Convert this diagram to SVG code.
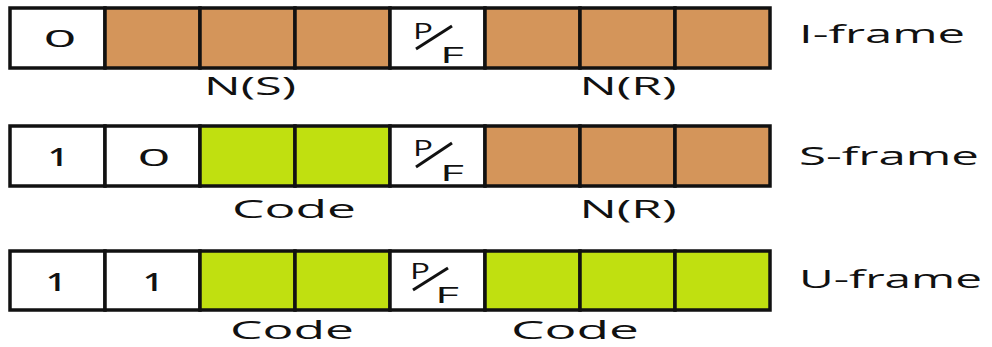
<svg xmlns="http://www.w3.org/2000/svg" width="992" height="347" viewBox="0 0 992 347">
<style>
.c{stroke:#111;stroke-width:3.5}
.w{fill:#fff}
.b{fill:#D4955A}
.g{fill:#C0E010}
text{font-family:"Open Sans","Liberation Sans",sans-serif;fill:#111}
.d{font-size:24px;text-anchor:middle}
.one{font-size:25px;text-anchor:middle;font-weight:600}
.l{font-size:26px;text-anchor:middle}
.f{font-size:26px}
.pf{font-size:21px}
.sl{stroke:#111;stroke-width:3}
</style>
<rect width="992" height="347" fill="#fff"/>
<g id="iframe">
<rect class="c w" x="10" y="8" width="95" height="60"/>
<rect class="c b" x="105" y="8" width="95" height="60"/>
<rect class="c b" x="200" y="8" width="95" height="60"/>
<rect class="c b" x="295" y="8" width="95" height="60"/>
<rect class="c w" x="390" y="8" width="95" height="60"/>
<rect class="c b" x="485" y="8" width="95" height="60"/>
<rect class="c b" x="580" y="8" width="95" height="60"/>
<rect class="c b" x="675" y="8" width="95" height="60"/>
<text class="d" x="60" y="47" textLength="33" lengthAdjust="spacingAndGlyphs">0</text>
<text class="pf" x="413" y="39" textLength="20" lengthAdjust="spacingAndGlyphs">P</text>
<line class="sl" x1="416" y1="49" x2="452" y2="26"/>
<text class="pf" x="440" y="63" textLength="24" lengthAdjust="spacingAndGlyphs">F</text>
<text class="l" x="250" y="95" textLength="92" lengthAdjust="spacingAndGlyphs">N(S)</text>
<text class="l" x="628" y="95" textLength="97" lengthAdjust="spacingAndGlyphs">N(R)</text>
<text class="f" x="799" y="43" textLength="166" lengthAdjust="spacingAndGlyphs">I-frame</text>
</g>
<g id="sframe">
<rect class="c w" x="10" y="126" width="95" height="60"/>
<rect class="c w" x="105" y="126" width="95" height="60"/>
<rect class="c g" x="200" y="126" width="95" height="60"/>
<rect class="c g" x="295" y="126" width="95" height="60"/>
<rect class="c w" x="390" y="126" width="95" height="60"/>
<rect class="c b" x="485" y="126" width="95" height="60"/>
<rect class="c b" x="580" y="126" width="95" height="60"/>
<rect class="c b" x="675" y="126" width="95" height="60"/>
<text class="one" x="58" y="166" textLength="20" lengthAdjust="spacingAndGlyphs">1</text>
<text class="d" x="154" y="166" textLength="33" lengthAdjust="spacingAndGlyphs">0</text>
<text class="pf" x="413" y="156" textLength="20" lengthAdjust="spacingAndGlyphs">P</text>
<line class="sl" x1="416" y1="167" x2="452" y2="143"/>
<text class="pf" x="440" y="181" textLength="24" lengthAdjust="spacingAndGlyphs">F</text>
<text class="l" x="294" y="218" textLength="124" lengthAdjust="spacingAndGlyphs">Code</text>
<text class="l" x="628" y="218" textLength="97" lengthAdjust="spacingAndGlyphs">N(R)</text>
<text class="f" x="799" y="165" textLength="180" lengthAdjust="spacingAndGlyphs">S-frame</text>
</g>
<g id="uframe">
<rect class="c w" x="10" y="251" width="95" height="59"/>
<rect class="c w" x="105" y="251" width="95" height="59"/>
<rect class="c g" x="200" y="251" width="95" height="59"/>
<rect class="c g" x="295" y="251" width="95" height="59"/>
<rect class="c w" x="390" y="251" width="95" height="59"/>
<rect class="c g" x="485" y="251" width="95" height="59"/>
<rect class="c g" x="580" y="251" width="95" height="59"/>
<rect class="c g" x="675" y="251" width="95" height="59"/>
<text class="one" x="56" y="291" textLength="20" lengthAdjust="spacingAndGlyphs">1</text>
<text class="one" x="153" y="291" textLength="20" lengthAdjust="spacingAndGlyphs">1</text>
<text class="pf" x="410" y="279" textLength="20" lengthAdjust="spacingAndGlyphs">P</text>
<line class="sl" x1="413" y1="290" x2="448" y2="268"/>
<text class="pf" x="435" y="303" textLength="24" lengthAdjust="spacingAndGlyphs">F</text>
<text class="l" x="292" y="339" textLength="124" lengthAdjust="spacingAndGlyphs">Code</text>
<text class="l" x="575" y="339" textLength="128" lengthAdjust="spacingAndGlyphs">Code</text>
<text class="f" x="799" y="288" textLength="183" lengthAdjust="spacingAndGlyphs">U-frame</text>
</g>
<g id="connectors"></g>
</svg>
